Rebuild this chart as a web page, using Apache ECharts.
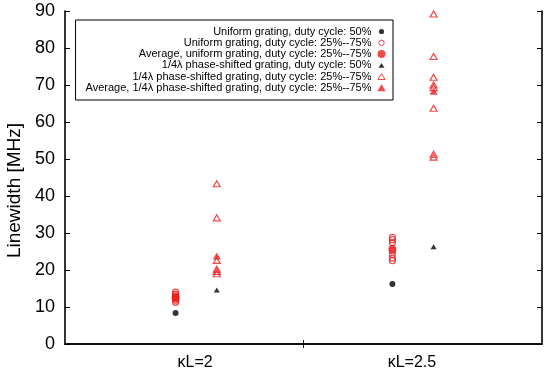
<!DOCTYPE html>
<html>
<head>
<meta charset="utf-8">
<script src="https://cdn.jsdelivr.net/npm/echarts@6/dist/echarts.min.js"></script>
<style>html,body{margin:0;padding:0;background:#fff}#c{width:550px;height:378px}</style>
</head>
<body>
<div id="c"></div>
<script>
// ---- data ----
var kLValues = [2, 2.5];
var kLLabels = ['κL=2', 'κL=2.5'];
var yTicks = [0, 10, 20, 30, 40, 50, 60, 70, 80, 90];

var uniform50 = [8.4, 16.2];
var uniformVar_kL2 = [14.0, 13.5, 13.0, 12.6, 12.2, 11.8, 11.3];
var uniformVar_kL25 = [28.8, 28.2, 27.4, 25.2, 24.2, 23.2, 22.5];
var uniformAvg = [12.6, 25.7];

var psf50 = [14.6, 26.3];
var psfVar_kL2 = [43.3, 34.1, 22.6, 20.2, 19.6, 19.0];
var psfVar_kL25 = [89.2, 77.7, 72.1, 70.0, 69.3, 63.7, 51.3, 50.5];
var psfAvg = [23.8, 68.3];

var seriesNames = [
  'Uniform grating, duty cycle: 50%',
  'Uniform grating, duty cycle: 25%--75%',
  'Average, uniform grating, duty cycle: 25%--75%',
  '1/4λ phase-shifted grating, duty cycle: 50%',
  '1/4λ phase-shifted grating, duty cycle: 25%--75%',
  'Average, 1/4λ phase-shifted grating, duty cycle: 25%--75%'
];

// ---- build ----
var UNI_DX = -0.045, PSF_DX = 0.05;
var RED = '#ec1c1c';
var FONT = "'Liberation Sans', Arial, sans-serif";

function pairs(values, dx) { return values.map(function (v, i) { return [kLValues[i] + dx, v]; }); }
function group(arrs, dx) {
  var out = [];
  arrs.forEach(function (a, i) { a.forEach(function (v) { out.push([kLValues[i] + dx, v]); }); });
  return out;
}

var icons = {
  smallCircle: 'path://M0,0M10,10M7.6,5A2.6,2.6,0,1,1,2.4,5A2.6,2.6,0,1,1,7.6,5Z',
  openCircle: 'path://M0,0M10,10M7.7,5A2.7,2.7,0,1,1,2.3,5A2.7,2.7,0,1,1,7.7,5Z',
  bigCircle: 'path://M0,0M10,10M9,5A4,4,0,1,1,1,5A4,4,0,1,1,9,5Z',
  smallTri: 'path://M0,0M10,10M5,2.6L8,7.4L2,7.4Z',
  openTri: 'path://M0,0M10,10M5,2L8.5,7.8L1.5,7.8Z',
  bigTri: 'path://M0,0M10,10M5,1.2L9.2,8.2L0.8,8.2Z'
};

var chart = echarts.init(document.getElementById('c'), null, {renderer: 'canvas'});
var axisLine = {show: true, lineStyle: {color: '#000', width: 1.6}};

chart.setOption({
  animation: false,
  backgroundColor: '#fff',
  textStyle: {fontFamily: FONT},
  grid: {left: 65, right: 8, top: 11, bottom: 34, containLabel: false, outerBoundsMode: 'none'},
  legend: {
    orient: 'vertical', right: 157, top: 20, align: 'right',
    itemWidth: 10, itemHeight: 10, itemGap: 0.3,
    padding: [6, 6, 6.5, 10],
    borderColor: '#000', borderWidth: 1, borderRadius: 0,
    selectedMode: false,
    textStyle: {fontSize: 11, color: '#000', fontFamily: FONT, lineHeight: 10},
    data: [
      {name: seriesNames[0], icon: icons.smallCircle, itemStyle: {color: '#000', borderWidth: 0}},
      {name: seriesNames[1], icon: icons.openCircle, itemStyle: {color: 'transparent', borderColor: RED, borderWidth: 1}},
      {name: seriesNames[2], icon: icons.bigCircle, itemStyle: {color: RED, borderWidth: 0}},
      {name: seriesNames[3], icon: icons.smallTri, itemStyle: {color: '#000', borderWidth: 0}},
      {name: seriesNames[4], icon: icons.openTri, itemStyle: {color: 'transparent', borderColor: RED, borderWidth: 1}},
      {name: seriesNames[5], icon: icons.bigTri, itemStyle: {color: RED, borderWidth: 0}}
    ]
  },
  xAxis: [{
    type: 'value', min: 1.7, max: 2.8, position: 'bottom',
    axisLine: axisLine, splitLine: {show: false},
    axisTick: {show: true, inside: true, length: 4, customValues: [2.25], lineStyle: {color: '#000'}},
    axisLabel: {show: true, customValues: kLValues, fontSize: 16, color: '#000', margin: 11,
      formatter: function (v) { var i = kLValues.indexOf(v); return i >= 0 ? kLLabels[i] : ''; }}
  }, {
    type: 'value', min: 1.7, max: 2.8, position: 'top',
    axisLine: axisLine, splitLine: {show: false},
    axisTick: {show: true, inside: true, length: 4, customValues: [2.25], lineStyle: {color: '#000'}},
    axisLabel: {show: false}
  }],
  yAxis: [{
    type: 'value', min: 0, max: 90, interval: 10, position: 'left',
    name: 'Linewidth [MHz]', nameLocation: 'middle', nameGap: 39,
    nameTextStyle: {fontSize: 19, color: '#000', padding: [0, 26, 0, 0]},
    axisLine: axisLine, splitLine: {show: false},
    axisTick: {show: true, inside: true, length: 5, lineStyle: {color: '#000'}},
    axisLabel: {fontSize: 18, color: '#000', margin: 10,
      formatter: function (v) { return yTicks.indexOf(v) >= 0 ? String(v) : ''; }}
  }, {
    type: 'value', min: 0, max: 90, interval: 10, position: 'right',
    axisLine: axisLine, splitLine: {show: false},
    axisTick: {show: true, inside: true, length: 5, lineStyle: {color: '#000'}},
    axisLabel: {show: false}
  }],
  series: [
    {name: seriesNames[0], type: 'scatter', data: pairs(uniform50, UNI_DX), symbol: 'circle', symbolSize: 6,
      itemStyle: {color: '#000'}},
    {name: seriesNames[1], type: 'scatter', data: group([uniformVar_kL2, uniformVar_kL25], UNI_DX), symbol: 'circle', symbolSize: 6,
      itemStyle: {color: 'transparent', borderColor: RED, borderWidth: 1.2}},
    {name: seriesNames[2], type: 'scatter', data: pairs(uniformAvg, UNI_DX), symbol: 'circle', symbolSize: 8,
      itemStyle: {color: RED}},
    {name: seriesNames[3], type: 'scatter', data: pairs(psf50, PSF_DX), symbol: 'triangle', symbolSize: [6, 5],
      itemStyle: {color: '#000'}},
    {name: seriesNames[4], type: 'scatter', data: group([psfVar_kL2, psfVar_kL25], PSF_DX), symbol: 'triangle', symbolSize: [7, 6],
      itemStyle: {color: 'transparent', borderColor: RED, borderWidth: 1.2}},
    {name: seriesNames[5], type: 'scatter', data: pairs(psfAvg, PSF_DX), symbol: 'triangle', symbolSize: [8, 7],
      itemStyle: {color: RED}}
  ]
});
</script>
</body>
</html>
